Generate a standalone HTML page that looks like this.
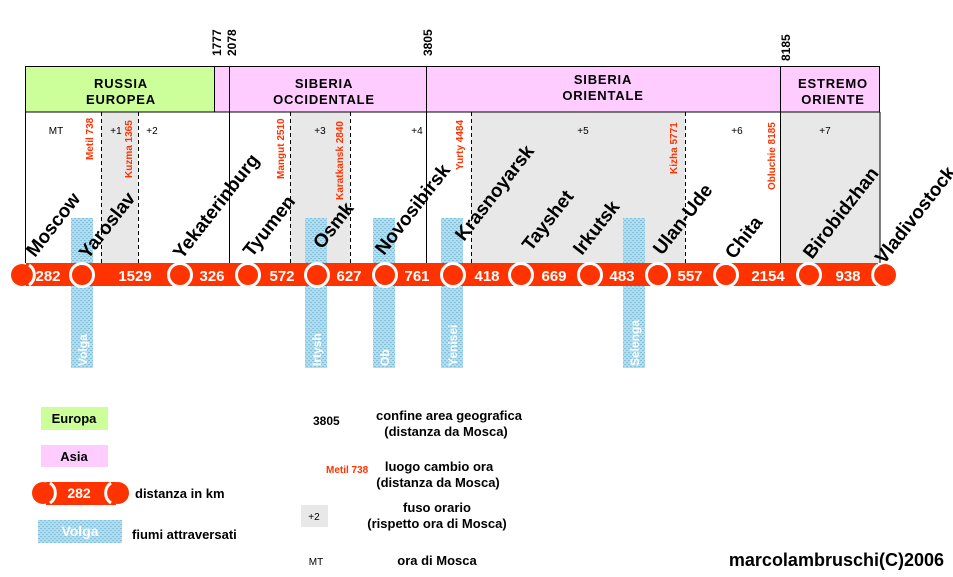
<!DOCTYPE html>
<html><head><meta charset="utf-8"><style>
html,body{margin:0;padding:0;background:#fff;}
svg{display:block;font-family:"Liberation Sans",Arial,sans-serif;}
</style></head><body>
<svg width="953" height="577" viewBox="0 0 953 577" xmlns="http://www.w3.org/2000/svg">
<defs>
<pattern id="h" width="4" height="4" patternUnits="userSpaceOnUse">
<rect width="4" height="4" fill="#b4dcec"/>
<rect x="0" y="0" width="2" height="1" fill="#7fc0dc"/>
<rect x="2" y="2" width="2" height="1" fill="#7fc0dc"/>
</pattern>
</defs>
<rect x="101" y="112" width="37" height="151" fill="#e8e8e8"/>
<rect x="290" y="112" width="60" height="151" fill="#e8e8e8"/>
<rect x="471" y="112" width="214" height="151" fill="#e8e8e8"/>
<rect x="780" y="112" width="100" height="151" fill="#e8e8e8"/>
<rect x="25" y="66" width="189" height="46" fill="#ccff99"/>
<rect x="214" y="66" width="666" height="46" fill="#ffccff"/>
<g stroke="#000" stroke-width="1" fill="none">
<rect x="25.5" y="66.5" width="854" height="45.5"/>
<line x1="214.5" y1="66" x2="214.5" y2="112"/>
<line x1="25.5" y1="112" x2="25.5" y2="263"/>
<line x1="229.5" y1="66" x2="229.5" y2="263"/>
<line x1="426.5" y1="66" x2="426.5" y2="263"/>
<line x1="780.5" y1="66" x2="780.5" y2="263"/>
<line x1="880" y1="112" x2="880" y2="263"/>
</g>
<g stroke="#000" stroke-width="1" stroke-dasharray="4,3">
<line x1="101.5" y1="112" x2="101.5" y2="263"/>
<line x1="138.5" y1="112" x2="138.5" y2="263"/>
<line x1="290.5" y1="112" x2="290.5" y2="263"/>
<line x1="350.5" y1="112" x2="350.5" y2="263"/>
<line x1="471.5" y1="112" x2="471.5" y2="263"/>
<line x1="685.5" y1="112" x2="685.5" y2="263"/>
</g>
<g font-weight="bold" font-size="13" text-anchor="middle" letter-spacing="0.8">
<text x="121" y="88">RUSSIA</text><text x="121" y="104">EUROPEA</text>
<text x="324" y="88">SIBERIA</text><text x="324" y="104">OCCIDENTALE</text>
<text x="603" y="84">SIBERIA</text><text x="603" y="100">ORIENTALE</text>
<text x="833" y="88">ESTREMO</text><text x="833" y="104">ORIENTE</text>
</g>
<g font-weight="bold" font-size="12">
<text transform="translate(221,56) rotate(-90)">1777</text>
<text transform="translate(236,56) rotate(-90)">2078</text>
<text transform="translate(432,56) rotate(-90)">3805</text>
<text transform="translate(790,61) rotate(-90)">8185</text>
</g>
<g font-size="10" text-anchor="middle">
<text x="56" y="134">MT</text><text x="116" y="134">+1</text><text x="152" y="134">+2</text>
<text x="320" y="134">+3</text><text x="417" y="134">+4</text><text x="583" y="134">+5</text>
<text x="737" y="134">+6</text><text x="825" y="134">+7</text>
</g>
<g font-size="10" font-weight="bold" fill="#ff3300">
<text transform="translate(93,160) rotate(-90)">Metil 738</text>
<text transform="translate(132,178) rotate(-90)">Kuzma 1365</text>
<text transform="translate(284,179) rotate(-90)">Mangut 2510</text>
<text transform="translate(343,200) rotate(-90)">Karatkansk 2840</text>
<text transform="translate(463,170) rotate(-90)">Yurty 4484</text>
<text transform="translate(677,174) rotate(-90)">Kizha 5771</text>
<text transform="translate(775,190) rotate(-90)">Obluchie 8185</text>
</g>
<rect x="71" y="218" width="22" height="150" fill="url(#h)"/>
<rect x="305" y="218" width="22" height="150" fill="url(#h)"/>
<rect x="373" y="218" width="22" height="150" fill="url(#h)"/>
<rect x="441" y="218" width="22" height="150" fill="url(#h)"/>
<rect x="623" y="218" width="22" height="150" fill="url(#h)"/>
<g font-size="12" font-weight="bold" fill="#fff">
<text transform="translate(87,366) rotate(-90)">Volga</text>
<text transform="translate(321,366) rotate(-90)">Irtysh</text>
<text transform="translate(389,366) rotate(-90)">Ob</text>
<text transform="translate(457,366) rotate(-90)">Yenisei</text>
<text transform="translate(639,366) rotate(-90)">Selenga</text>
</g>
<g font-size="19" font-weight="bold">
<text transform="translate(35,258) rotate(-52)">Moscow</text>
<text transform="translate(88,260) rotate(-52)">Yaroslav</text>
<text transform="translate(182,260) rotate(-52)">Yekaterinburg</text>
<text transform="translate(252,258) rotate(-52)">Tyumen</text>
<text transform="translate(322,250) rotate(-52)">Osmk</text>
<text transform="translate(384,256) rotate(-52)">Novosibirsk</text>
<text transform="translate(464,242) rotate(-52)">Krasnoyarsk</text>
<text transform="translate(531,252) rotate(-52)">Tayshet</text>
<text transform="translate(582,256) rotate(-52)">Irkutsk</text>
<text transform="translate(662,256) rotate(-52)">Ulan-Ude</text>
<text transform="translate(734,260) rotate(-52)">Chita</text>
<text transform="translate(812,260) rotate(-52)">Birobidzhan</text>
<text transform="translate(884,265) rotate(-52)">Vladivostock</text>
</g>
<rect x="26" y="263" width="852" height="23" fill="#ff3300"/>
<g fill="#ff3300" stroke="#fff" stroke-width="3">
<circle cx="22" cy="275" r="11" stroke="none"/>
<path d="M29,265 A12,12 0 0 1 29,285" fill="none"/>
<circle cx="82" cy="275" r="11.5"/>
<circle cx="180" cy="275" r="11.5"/>
<circle cx="248" cy="275" r="11.5"/>
<circle cx="317" cy="275" r="11.5"/>
<circle cx="385" cy="275" r="11.5"/>
<circle cx="453" cy="275" r="11.5"/>
<circle cx="521" cy="275" r="11.5"/>
<circle cx="590" cy="275" r="11.5"/>
<circle cx="658" cy="275" r="11.5"/>
<circle cx="726" cy="275" r="11.5"/>
<circle cx="809" cy="275" r="11.5"/>
<circle cx="885" cy="275" r="11" stroke="none"/>
<path d="M878,265 A12,12 0 0 0 878,285" fill="none"/>
</g>
<g font-size="15" font-weight="bold" fill="#fff" text-anchor="middle">
<text x="48" y="281">282</text><text x="135" y="281">1529</text><text x="212" y="281">326</text>
<text x="282" y="281">572</text><text x="349" y="281">627</text><text x="417" y="281">761</text>
<text x="487" y="281">418</text><text x="554" y="281">669</text><text x="622" y="281">483</text>
<text x="690" y="281">557</text><text x="768" y="281">2154</text><text x="848" y="281">938</text>
</g>
<rect x="41" y="407" width="67" height="23" fill="#ccff99"/>
<text x="74" y="423" font-size="13" font-weight="bold" text-anchor="middle">Europa</text>
<rect x="41" y="445" width="67" height="22" fill="#ffccff"/>
<text x="74" y="461" font-size="13" font-weight="bold" text-anchor="middle">Asia</text>
<rect x="46" y="482" width="70" height="23" fill="#ff3300"/>
<circle cx="43" cy="493" r="11" fill="#ff3300"/>
<path d="M50,483 A12,12 0 0 1 50,503" fill="none" stroke="#fff" stroke-width="3"/>
<circle cx="118" cy="493" r="11" fill="#ff3300"/>
<path d="M111,483 A12,12 0 0 0 111,503" fill="none" stroke="#fff" stroke-width="3"/>
<text x="79" y="498" font-size="14" font-weight="bold" fill="#fff" text-anchor="middle">282</text>
<text x="135" y="498" font-size="13" font-weight="bold">distanza in km</text>
<rect x="38" y="520" width="84" height="23" fill="url(#h)"/>
<text x="80" y="536" font-size="14" font-weight="bold" fill="#fff" text-anchor="middle">Volga</text>
<text x="132" y="539" font-size="13" font-weight="bold">fiumi attraversati</text>
<text x="313" y="425" font-size="12" font-weight="bold">3805</text>
<text x="326" y="473" font-size="10" font-weight="bold" fill="#ff3300">Metil 738</text>
<rect x="301" y="505" width="27" height="22" fill="#e8e8e8"/>
<text x="314" y="520" font-size="10" text-anchor="middle">+2</text>
<text x="316" y="565" font-size="10" text-anchor="middle">MT</text>
<g font-size="13" font-weight="bold" text-anchor="middle">
<text x="449" y="420">confine area geografica</text><text x="446" y="436">(distanza da Mosca)</text>
<text x="439" y="471">luogo cambio ora</text><text x="438" y="487">(distanza da Mosca)</text>
<text x="437" y="512">fuso orario</text><text x="437" y="528">(rispetto ora di Mosca)</text>
<text x="437" y="565">ora di Mosca</text>
</g>
<text x="944" y="566" font-size="18" font-weight="bold" text-anchor="end">marcolambruschi(C)2006</text>
</svg>
</body></html>
